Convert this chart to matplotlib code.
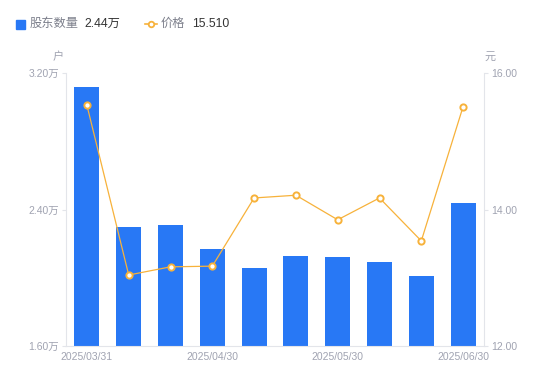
import matplotlib.pyplot as plt
import numpy as np
from matplotlib.lines import Line2D

plt.rcParams['font.family'] = ['Liberation Sans', 'Noto Sans CJK SC', 'DejaVu Sans']

# data
dates = ['2025/03/31', '2025/04/10', '2025/04/20', '2025/04/30', '2025/05/10',
         '2025/05/20', '2025/05/30', '2025/06/10', '2025/06/20', '2025/06/30']
holders = [3.12, 2.30, 2.31, 2.17, 2.06, 2.13, 2.12, 2.09, 2.01, 2.44]  # 万户
price = [15.53, 13.04, 13.16, 13.17, 14.17, 14.21, 13.85, 14.17, 13.54, 15.51]  # 元

blue = '#2878f5'
orange = '#f7b23b'
grey = '#a0a3b1'
axcol = '#e3e5ea'

fig = plt.figure(figsize=(5.5, 3.81), dpi=100)
ax = fig.add_axes([0.12, 0.092, 0.76, 0.716])
ax2 = ax.twinx()

x = np.arange(len(dates))
ax.bar(x, holders, width=0.6, color=blue, zorder=2)
ax.set_ylim(1.6, 3.2)
ax.set_xlim(-0.5, len(dates) - 0.5)
ax.set_yticks([1.6, 2.4, 3.2])
ax.set_yticklabels([f'{v:.2f}万' for v in [1.6, 2.4, 3.2]])

ax2.plot(x, price, color=orange, lw=0.9, marker='o', ms=4.5,
         markerfacecolor='white', markeredgecolor=orange, markeredgewidth=1.4, zorder=3)
ax2.set_ylim(12, 16)
ax2.set_yticks([12, 14, 16])
ax2.set_yticklabels([f'{v:.2f}' for v in [12, 14, 16]])

ax.set_xticks(x[::3])
ax.set_xticklabels(dates[::3])

for a in (ax, ax2):
    for s in a.spines.values():
        s.set_visible(False)
    a.tick_params(colors=grey, labelsize=7.5, length=3, width=0.8, pad=2)
    a.tick_params(axis='y', colors=axcol, labelcolor=grey)
ax.tick_params(axis='x', length=0, labelcolor=grey, pad=4)
ax.spines['left'].set_visible(True)
ax.spines['left'].set_color(axcol)
ax.spines['bottom'].set_visible(True)
ax.spines['bottom'].set_color(axcol)
ax2.spines['right'].set_visible(True)
ax2.spines['right'].set_color(axcol)

fig.text(58 / 550, 1 - 57 / 381, '户', color=grey, fontsize=8, ha='center', va='center')
fig.text(490 / 550, 1 - 57 / 381, '元', color=grey, fontsize=8, ha='center', va='center')

# legend row
fig.patches.append(plt.Rectangle((16 / 550, 1 - 29 / 381), 9 / 550, 9 / 381,
                                 transform=fig.transFigure, color=blue))
fig.text(30 / 550, 1 - 24 / 381, '股东数量', color='#7d808c', fontsize=8.8, va='center')
fig.text(84 / 550, 1 - 24 / 381, '2.44万', color='#333333', fontsize=8.8, va='center')
fig.lines.append(Line2D([145 / 550, 157 / 550], [1 - 24 / 381, 1 - 24 / 381],
                        transform=fig.transFigure, color=orange, lw=1.2))
fig.lines.append(Line2D([151 / 550], [1 - 24 / 381], transform=fig.transFigure,
                        marker='o', ms=4, markerfacecolor='white',
                        markeredgecolor=orange, markeredgewidth=1.3))
fig.text(161 / 550, 1 - 24 / 381, '价格', color='#7d808c', fontsize=8.8, va='center')
fig.text(192 / 550, 1 - 24 / 381, '15.510', color='#333333', fontsize=8.8, va='center')

fig.savefig('out.png', dpi=100)
